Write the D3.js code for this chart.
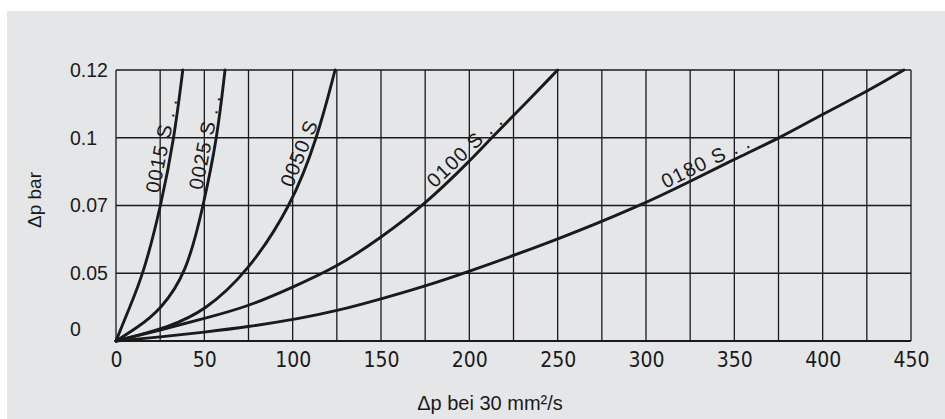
<!DOCTYPE html>
<html>
<head>
<meta charset="utf-8">
<script src="https://cdn.jsdelivr.net/npm/d3@7/dist/d3.min.js"></script>
<style>
    html, body { margin: 0; padding: 0; background: #fff; }
    svg { display: block; }
</style>
</head>
<body>
<svg id="chart" width="945" height="419"></svg>
<script>
    'use strict';

    // axis ticks
    var xTicks = [0, 50, 100, 150, 200, 250, 300, 350, 400, 450];
    var xGrid = [0, 25, 50, 75, 100, 125, 150, 175, 200, 225, 250, 275, 300, 325, 350, 375, 400, 425, 450];
    var yTicks = [0, 0.05, 0.07, 0.1, 0.12];

    // curves: [flow, dp bar]
    var seriesNames = ['0015 S . .', '0025 S . .', '0050 S', '0100 S . .', '0180 S . .'];
    var s0015 = [[0, 0], [3.2, 0.0104], [7, 0.0226], [15.7, 0.05], [25.5, 0.07], [33, 0.1], [37.8, 0.12]];
    var s0025 = [[0, 0], [12.6, 0.0104], [24.9, 0.0226], [40, 0.05], [49.5, 0.07], [57.3, 0.1], [61.7, 0.12]];
    var s0050 = [[0, 0], [30.6, 0.0104], [50.4, 0.0226], [74, 0.05], [99.4, 0.07], [114, 0.1], [124, 0.12]];
    var s0100 = [[0, 0], [25, 0.008], [50, 0.0166], [75, 0.0255], [100, 0.0397], [125, 0.0518], [150, 0.0605],
        [175, 0.0706], [200, 0.0895], [212.6, 0.1], [225, 0.1065], [250, 0.12]];
    var s0180 = [[0, 0], [25, 0.003], [50, 0.0065], [75, 0.0105], [104, 0.0166], [125, 0.0222], [150, 0.031],
        [175, 0.0405], [197, 0.05], [250, 0.0599], [297, 0.07], [325, 0.0807], [350, 0.0905], [376, 0.1],
        [400, 0.107], [425, 0.1136], [446, 0.12]];
    var allSeries = [s0015, s0025, s0050, s0100, s0180];

    // where (in flow units) each curve label starts
    var labelStart = [26.5, 51, 102, 182, 312];

    var width = 945, height = 419;
    var margin = {top: 70, right: 34, bottom: 78, left: 116};
    var plotW = width - margin.left - margin.right;
    var plotH = height - margin.top - margin.bottom;
    var ink = '#1a1a1a';

    var svg = d3.select('#chart');

    svg.append('rect')
        .attr('x', 7).attr('y', 11)
        .attr('width', width - 7).attr('height', height - 11)
        .attr('fill', '#e5e6e8');

    var g = svg.append('g').attr('transform', 'translate(' + margin.left + ',' + margin.top + ')');

    var x = d3.scaleLinear().domain([0, 450]).range([0, plotW]);
    // the y ticks are evenly spaced although their values are not
    var y = d3.scaleLinear()
        .domain(yTicks)
        .range(yTicks.map(function (d, i) {
            return plotH - i * plotH / (yTicks.length - 1);
        }));

    // grid
    g.append('g').attr('class', 'grid-x')
        .selectAll('line').data(xGrid).enter().append('line')
        .attr('x1', function (d) { return x(d); })
        .attr('x2', function (d) { return x(d); })
        .attr('y1', 0).attr('y2', plotH)
        .attr('stroke', ink).attr('stroke-width', 1.3);

    g.append('g').attr('class', 'grid-y')
        .selectAll('line').data(yTicks).enter().append('line')
        .attr('x1', 0).attr('x2', plotW)
        .attr('y1', function (d) { return y(d); })
        .attr('y2', function (d) { return y(d); })
        .attr('stroke', ink).attr('stroke-width', function (d) { return d === 0 ? 2 : 1.3; });

    // x axis labels
    var xAxis = d3.axisBottom(x).tickValues(xTicks).tickSize(0).tickPadding(11).tickFormat(d3.format('d'));
    g.append('g')
        .attr('transform', 'translate(0,' + plotH + ')')
        .call(xAxis)
        .call(function (sel) {
            sel.select('.domain').remove();
            sel.selectAll('text')
                .attr('fill', ink)
                .style('font-family', '"DejaVu Sans", sans-serif')
                .style('font-stretch', 'condensed')
                .style('font-size', '21px');
        });

    // y axis labels, left aligned
    var yAxis = d3.axisLeft(y).tickValues(yTicks).tickSize(0).tickPadding(0)
        .tickFormat(function (d) { return String(d); });
    g.append('g')
        .attr('transform', 'translate(' + (70 - margin.left) + ',0)')
        .call(yAxis)
        .call(function (sel) {
            sel.select('.domain').remove();
            sel.selectAll('text')
                .attr('text-anchor', 'start')
                .attr('x', 0)
                .attr('dy', function (d) { return d === 0 ? '-0.3em' : '0.32em'; })
                .attr('fill', ink)
                .style('font-family', '"Liberation Sans", Arial, sans-serif')
                .style('font-size', '19.5px');
        });

    // axis titles
    svg.append('text')
        .attr('transform', 'translate(41,200) rotate(-90)')
        .attr('text-anchor', 'middle')
        .attr('fill', ink)
        .style('font-family', '"Liberation Sans", Arial, sans-serif')
        .style('font-size', '19px')
        .text('\u0394p bar');

    svg.append('text')
        .attr('x', 490).attr('y', 410)
        .attr('text-anchor', 'middle')
        .attr('fill', ink)
        .style('font-family', '"Liberation Sans", Arial, sans-serif')
        .style('font-size', '20px')
        .text('\u0394p bei 30 mm\u00b2/s');

    // curves
    var line = d3.line()
        .x(function (d) { return x(d[0]); })
        .y(function (d) { return y(d[1]); })
        .curve(d3.curveBasis);

    var curves = g.append('g').attr('class', 'curves')
        .selectAll('path').data(allSeries).enter().append('path')
        .attr('d', line)
        .attr('fill', 'none')
        .attr('stroke', ink)
        .attr('stroke-width', 2.9)
        .attr('stroke-linecap', 'round');

    // labels along the curves
    curves.each(function (d, i) {
        var node = this;
        var total = node.getTotalLength();
        var target = x(labelStart[i]);
        var lo = 0, hi = total;
        for (var k = 0; k < 40; k++) {
            var mid = (lo + hi) / 2;
            if (node.getPointAtLength(mid).x < target) { lo = mid; } else { hi = mid; }
        }
        var p0 = node.getPointAtLength(lo);
        var p1 = node.getPointAtLength(Math.min(total, lo + 40));
        var ang = Math.atan2(p1.y - p0.y, p1.x - p0.x) * 180 / Math.PI;

        g.append('text')
            .attr('transform', 'translate(' + p0.x + ',' + p0.y + ') rotate(' + ang + ')')
            .attr('dy', -4)
            .attr('fill', ink)
            .style('font-family', '"Liberation Sans", Arial, sans-serif')
            .style('font-size', '20px')
            .style('letter-spacing', '1.1px')
            .text(seriesNames[i]);
    });
</script>
</body>
</html>
